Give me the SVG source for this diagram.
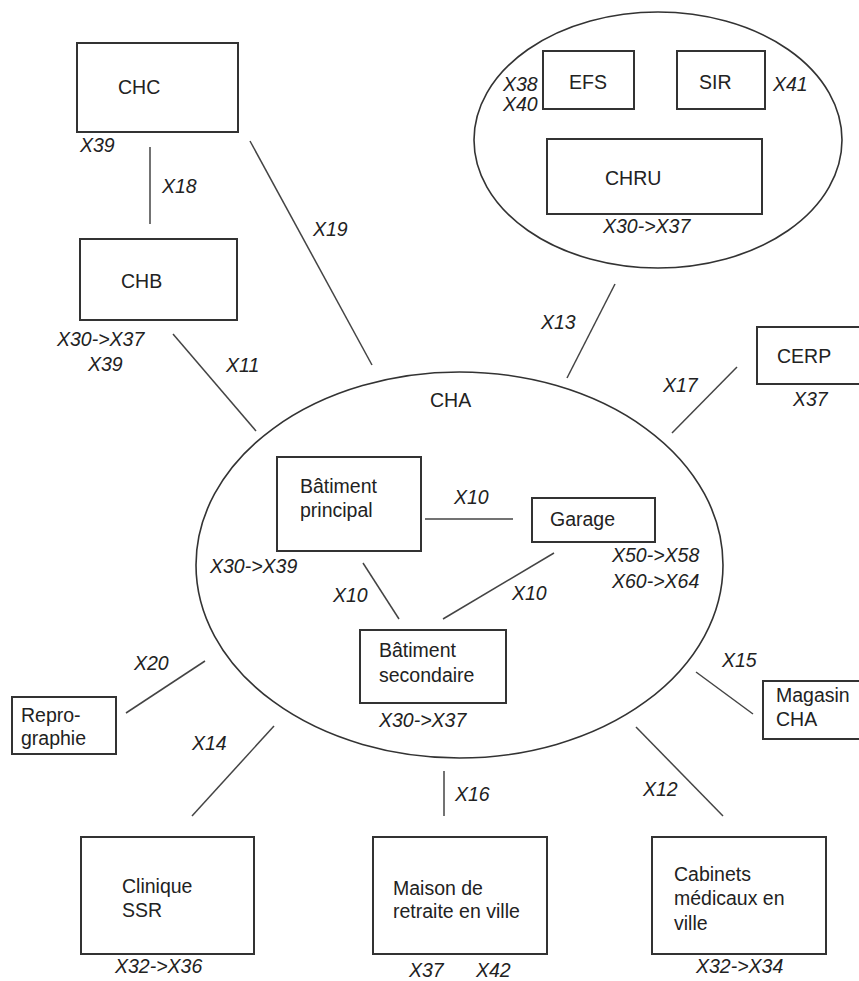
<svg xmlns="http://www.w3.org/2000/svg" width="859" height="981" viewBox="0 0 859 981">
<style>
.box{fill:#fff;stroke:#333;stroke-width:2}
.ell{fill:none;stroke:#333;stroke-width:1.6}
.t{font-family:"Liberation Sans",Arial,sans-serif;font-size:19.5px;fill:#222}
.l{font-family:"Liberation Sans",Arial,sans-serif;font-size:19.5px;font-style:italic;fill:#222}
.c{stroke:#444;stroke-width:1.5;fill:none}
</style>
<rect width="859" height="981" fill="#fff"/>
<g id="groupe-chru">
<ellipse class="ell" cx="658" cy="140" rx="184" ry="128"/>
</g>
<g id="cha">
<ellipse class="ell" cx="459.5" cy="565" rx="263.5" ry="193"/>
<text class="t" x="430" y="407">CHA</text>
</g>
<g id="connectors">
<line class="c" x1="150" y1="147" x2="150" y2="224"/>
<line class="c" x1="250" y1="141" x2="372" y2="365"/>
<line class="c" x1="173" y1="334" x2="256" y2="431"/>
<line class="c" x1="615" y1="284" x2="567" y2="378"/>
<line class="c" x1="737" y1="367" x2="672" y2="433"/>
<line class="c" x1="425" y1="519" x2="513" y2="519"/>
<line class="c" x1="554" y1="553" x2="443" y2="619"/>
<line class="c" x1="363" y1="563" x2="399" y2="619"/>
<line class="c" x1="205" y1="661" x2="126" y2="713"/>
<line class="c" x1="274" y1="726" x2="192" y2="816"/>
<line class="c" x1="444" y1="771" x2="444" y2="816"/>
<line class="c" x1="636" y1="727" x2="723" y2="816"/>
<line class="c" x1="696" y1="672" x2="753" y2="714"/>
<text class="l" x="162" y="193">X18</text>
<text class="l" x="313" y="236">X19</text>
<text class="l" x="226" y="372">X11</text>
<text class="l" x="541" y="329">X13</text>
<text class="l" x="663" y="392">X17</text>
<text class="l" x="454" y="504">X10</text>
<text class="l" x="512" y="600">X10</text>
<text class="l" x="333" y="602">X10</text>
<text class="l" x="134" y="670">X20</text>
<text class="l" x="192" y="750">X14</text>
<text class="l" x="455" y="801">X16</text>
<text class="l" x="643" y="796">X12</text>
<text class="l" x="722" y="667">X15</text>
</g>
<g id="chc">
<rect class="box" x="77" y="43" width="161" height="89"/>
<text class="t" x="118" y="94">CHC</text>
<text class="l" x="80" y="152">X39</text>
</g>
<g id="chb">
<rect class="box" x="80" y="239" width="157" height="81"/>
<text class="t" x="121" y="288">CHB</text>
<text class="l" x="57" y="346">X30-&gt;X37</text>
<text class="l" x="88" y="371">X39</text>
</g>
<g id="efs">
<rect class="box" x="543" y="51" width="91" height="58"/>
<text class="t" x="569" y="89">EFS</text>
<text class="l" x="503" y="91">X38</text>
<text class="l" x="503" y="111">X40</text>
</g>
<g id="sir">
<rect class="box" x="677" y="51" width="88" height="58"/>
<text class="t" x="699" y="89">SIR</text>
<text class="l" x="773" y="91">X41</text>
</g>
<g id="chru">
<rect class="box" x="547" y="139" width="215" height="75"/>
<text class="t" x="605" y="185">CHRU</text>
<text class="l" x="603" y="233">X30-&gt;X37</text>
</g>
<g id="cerp">
<rect class="box" x="757" y="327" width="106" height="57"/>
<text class="t" x="777" y="363">CERP</text>
<text class="l" x="793" y="406">X37</text>
</g>
<g id="batiment-principal">
<rect class="box" x="277" y="457" width="144" height="94"/>
<text class="t" x="300" y="493">Bâtiment</text>
<text class="t" x="300" y="517">principal</text>
<text class="l" x="210" y="573">X30-&gt;X39</text>
</g>
<g id="garage">
<rect class="box" x="532" y="498" width="123" height="44"/>
<text class="t" x="550" y="526">Garage</text>
<text class="l" x="612" y="562">X50-&gt;X58</text>
<text class="l" x="612" y="588">X60-&gt;X64</text>
</g>
<g id="batiment-secondaire">
<rect class="box" x="360" y="630" width="146" height="73"/>
<text class="t" x="379" y="657">Bâtiment</text>
<text class="t" x="379" y="682">secondaire</text>
<text class="l" x="379" y="727">X30-&gt;X37</text>
</g>
<g id="reprographie">
<rect class="box" x="12" y="697" width="104" height="57"/>
<text class="t" x="21" y="722">Repro-</text>
<text class="t" x="21" y="745">graphie</text>
</g>
<g id="magasin-cha">
<rect class="box" x="763" y="681" width="100" height="58"/>
<text class="t" x="776" y="702">Magasin</text>
<text class="t" x="776" y="726">CHA</text>
</g>
<g id="clinique-ssr">
<rect class="box" x="81" y="837" width="173" height="117"/>
<text class="t" x="122" y="893">Clinique</text>
<text class="t" x="122" y="917">SSR</text>
<text class="l" x="115" y="973">X32-&gt;X36</text>
</g>
<g id="maison-retraite">
<rect class="box" x="373" y="837" width="174" height="117"/>
<text class="t" x="393" y="895">Maison de</text>
<text class="t" x="393" y="918">retraite en ville</text>
<text class="l" x="409" y="977">X37</text>
<text class="l" x="476" y="977">X42</text>
</g>
<g id="cabinets-medicaux">
<rect class="box" x="652" y="837" width="174" height="117"/>
<text class="t" x="674" y="881">Cabinets</text>
<text class="t" x="674" y="905">médicaux en</text>
<text class="t" x="674" y="930">ville</text>
<text class="l" x="696" y="973">X32-&gt;X34</text>
</g>
</svg>
